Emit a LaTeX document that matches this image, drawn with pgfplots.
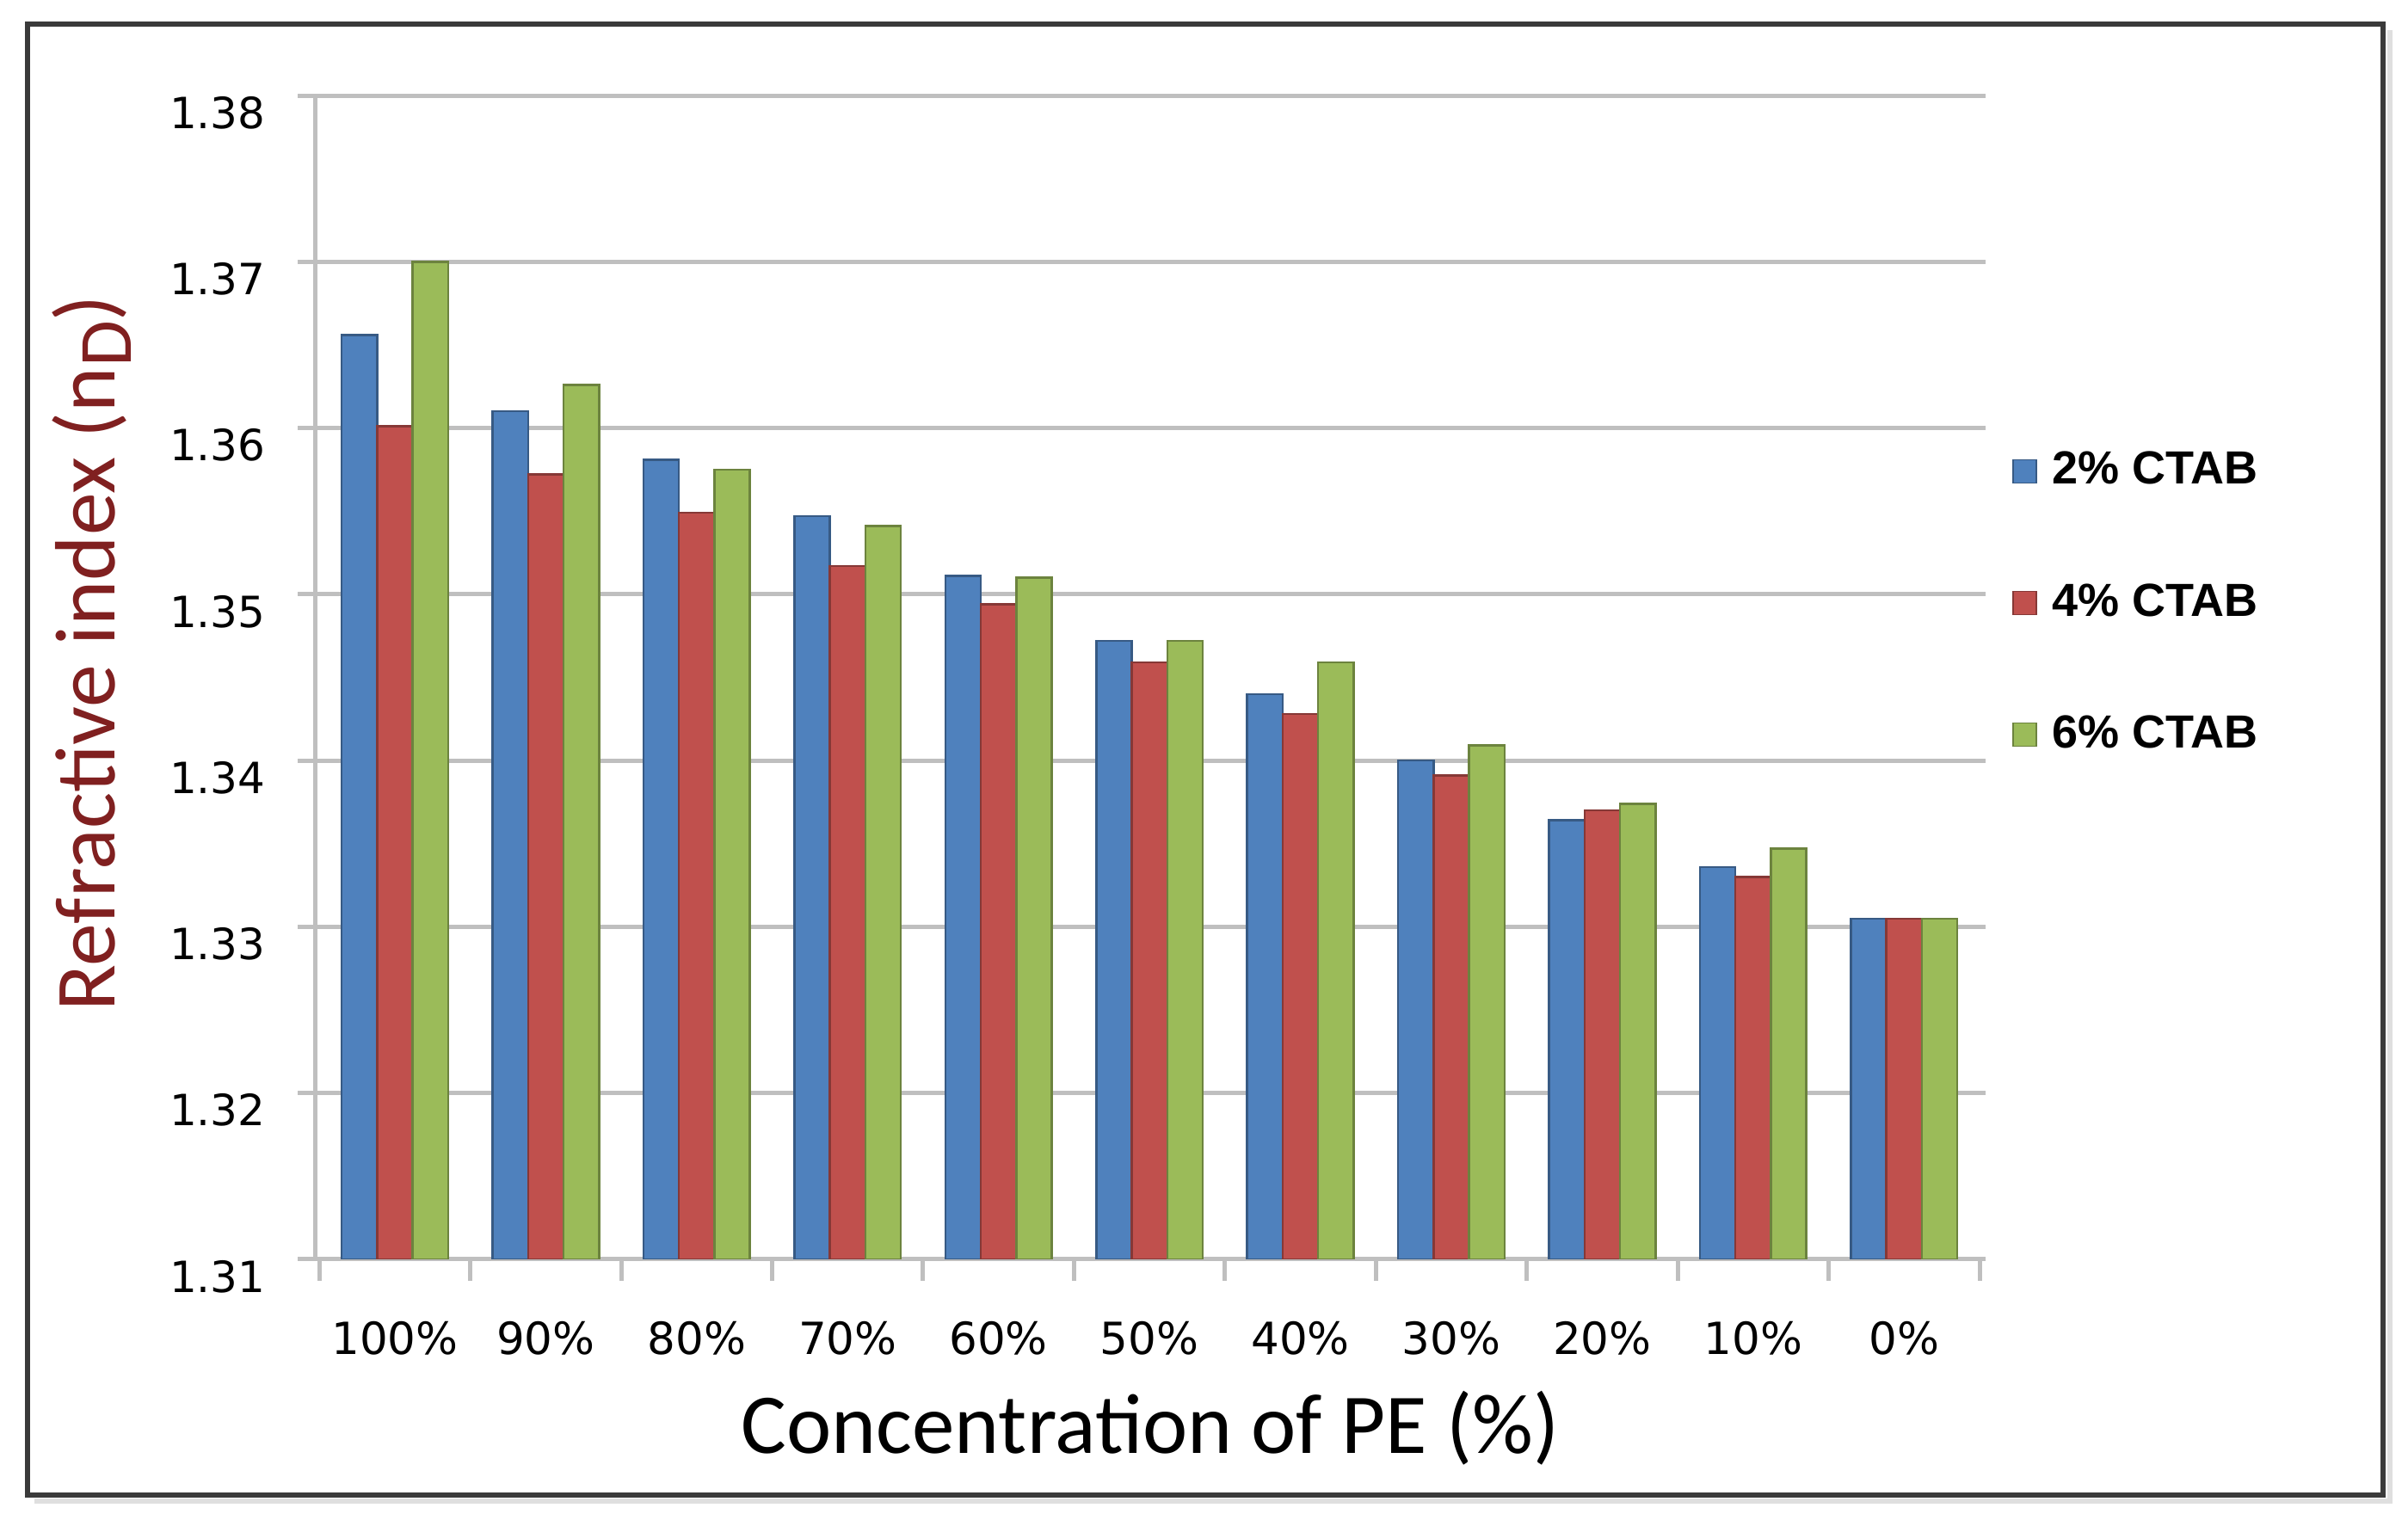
\documentclass[border=0pt]{standalone}
\usepackage{fontspec}
\setmainfont{DejaVu Sans}
\newfontfamily\carlito{Carlito}
\newfontfamily\libsans{Liberation Sans}
\usepackage{pgfplots}
\pgfplotsset{compat=1.18}
\definecolor{c1}{HTML}{4F81BD}
\definecolor{c2}{HTML}{C0504D}
\definecolor{c3}{HTML}{9BBB59}
\definecolor{ylab}{HTML}{802020}
\definecolor{gridc}{HTML}{BFBFBF}
\definecolor{framec}{HTML}{3A3A3A}
\begin{document}
\begin{tikzpicture}
\path[use as bounding box] (0pt,0pt) rectangle (559.8pt,353.4pt);
\draw[gray!25, line width=1.2pt] (8pt,4.4pt) -- (555.6pt,4.4pt) -- (555.6pt,346.4pt);
\draw[framec, line width=1.1pt] (6.4pt,5.8pt) rectangle (554pt,347.8pt);
\begin{axis}[
  at={(73.2pt,60.6pt)}, anchor=south west,
  scale only axis, width=388.4pt, height=270.6pt,
  /pgf/number format/assume math mode=true,
  ymin=1.31, ymax=1.38,
  ytick={1.31,1.32,1.33,1.34,1.35,1.36,1.37,1.38},
  yticklabel style={/pgf/number format/fixed, /pgf/number format/precision=2,
    /pgf/number format/fixed zerofill, font=\fontsize{10}{12}\selectfont,
    yshift=-4pt, xshift=-4pt},
  xmin=-0.53, xmax=10.54,
  xtick={0,1,2,3,4,5,6,7,8,9,10},
  xticklabels={100\%,90\%,80\%,70\%,60\%,50\%,40\%,30\%,20\%,10\%,0\%},
  xticklabel style={font=\fontsize{10.3}{12}\selectfont, yshift=-7pt},
  minor xtick={-0.5,0.5,1.5,2.5,3.5,4.5,5.5,6.5,7.5,8.5,9.5,10.5},
  tick align=outside,
  major tick length=4pt, minor tick length=5pt,
  major x tick style={draw=none},
  minor x tick style={gridc, line width=1pt},
  major y tick style={gridc, line width=1pt},
  ybar=0pt, bar width=0.235,
  ymajorgrids, grid style={gridc, line width=1pt},
  axis x line*=bottom, axis y line*=left,
  axis line style={gridc, line width=1pt, -},
  xlabel={\carlito\fontsize{19.8}{22}\selectfont Concentration of PE (\%)},
  xlabel style={at={(axis description cs:0.5,-0.145)}, anchor=center},
  ylabel={\carlito\fontsize{19.9}{22}\selectfont\color{ylab}Refractive index (n\raisebox{-0.4ex}{\fontsize{17.5}{17.5}\selectfont D})},
  ylabel style={at={(axis description cs:-0.1334,0.521)}, anchor=center},
  legend style={at={(axis description cs:1.0155,0.702)}, anchor=north west,
    draw=none, fill=none, font=\libsans\bfseries\fontsize{10.8}{12}\selectfont,
    row sep=17.6pt, inner sep=0pt,
    /tikz/every odd column/.append style={column sep=1.5pt}},
  legend cell align=left,
  legend image code/.code={\draw[#1, line width=0.3pt] (0pt,-2.7pt) rectangle (5.4pt,2.7pt);},
]
\addplot[fill=c1, draw=c1!70!black, line width=0.5pt] coordinates {
(0,1.3656) (1,1.3610) (2,1.3581) (3,1.3547) (4,1.3511) (5,1.3472)
(6,1.3440) (7,1.3400) (8,1.3364) (9,1.3336) (10,1.3305)};
\addplot[fill=c2, draw=c2!70!black, line width=0.5pt] coordinates {
(0,1.3601) (1,1.3572) (2,1.3549) (3,1.3517) (4,1.3494) (5,1.3459)
(6,1.3428) (7,1.3391) (8,1.3370) (9,1.3330) (10,1.3305)};
\addplot[fill=c3, draw=c3!70!black, line width=0.5pt] coordinates {
(0,1.3700) (1,1.3626) (2,1.3575) (3,1.3541) (4,1.3510) (5,1.3472)
(6,1.3459) (7,1.3409) (8,1.3374) (9,1.3347) (10,1.3305)};
\legend{2\% CTAB,4\% CTAB,6\% CTAB}
\end{axis}
\end{tikzpicture}
\end{document}
